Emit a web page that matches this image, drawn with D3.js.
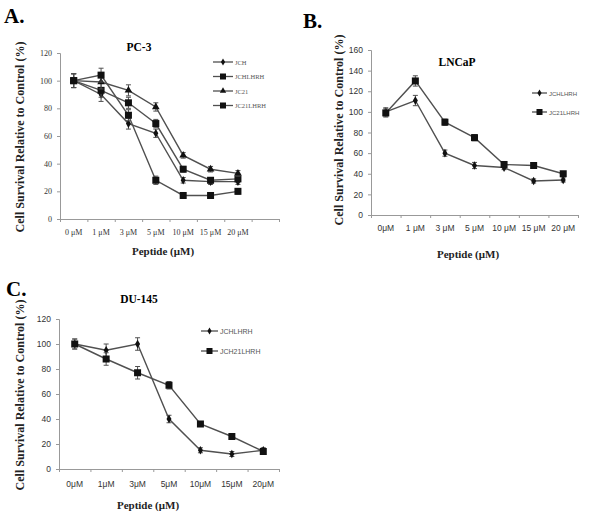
<!DOCTYPE html>
<html>
<head>
<meta charset="utf-8">
<script src="https://cdn.jsdelivr.net/npm/d3@7"></script>
<style>
  body { margin: 0; background: #fff; }
  svg { display: block; }
  .serif { font-family: "Liberation Serif", "DejaVu Serif", serif; }
  .sans { font-family: "Liberation Sans", Arial, sans-serif; }
</style>
</head>
<body>
<div id="chart"></div>
<script>
// doses (x categories)
var doses = ["0μM", "1μM", "3μM", "5μM", "10μM", "15μM", "20μM"];
var dosesA = ["0 μM", "1 μM", "3 μM", "5 μM", "10 μM", "15 μM", "20 μM"];
var dosesB = ["0μM", "1 μM", "3 μM", "5 μM", "10 μM", "15 μM", "20 μM"];

// panel A, PC-3
var pc3JCH = [100, 90, 69, 62, 28, 27, 27];
var pc3JCHLHRH = [100, 93, 84, 69, 36, 28, 29];
var pc3JC21 = [100, 99, 93, 81, 46, 36, 33];
var pc3JC21LHRH = [100, 104, 75, 28, 17, 17, 20];
var pc3Err = [5, 5, 4, 3, 2, 2, 2];

// panel B, LNCaP
var lncapJCHLHRH = [100, 111, 60, 48, 46, 33, 34];
var lncapJC21LHRH = [99, 130, 90, 75, 49, 48, 40];
var lncapErr = [4, 5, 3, 3, 2, 2, 2];

// panel C, DU-145
var du145JCHLHRH = [100, 95, 100, 40, 15, 12, 15];
var du145JCH21LHRH = [100, 88, 77, 67, 36, 26, 14];
var du145Err = [4, 5, 5, 3, 2, 2, 2];

var svg = d3.select("#chart").append("svg")
  .attr("width", 600)
  .attr("height", 523);

var lineColor = "#505050";

function marker(g, type, x, y, size) {
  if (type == "square") {
    g.append("rect")
      .attr("x", x - size / 2).attr("y", y - size / 2)
      .attr("width", size).attr("height", size)
      .attr("fill", "#111");
  } else if (type == "triangle") {
    g.append("path")
      .attr("d", d3.symbol().type(d3.symbolTriangle).size(size * size * 0.7)())
      .attr("transform", "translate(" + x + "," + y + ")")
      .attr("fill", "#111");
  } else {
    g.append("path")
      .attr("d", d3.symbol().type(d3.symbolDiamond).size(size * size * 0.6)())
      .attr("transform", "translate(" + x + "," + y + ")")
      .attr("fill", "#111");
  }
}

function panel(opt) {
  var g = svg.append("g");
  var x = d3.scaleBand().domain(opt.bands).range([opt.x0, opt.x1]);
  var y = d3.scaleLinear().domain([0, opt.ymax]).range([opt.y0, opt.y1]);

  // y axis
  var ya = g.append("g")
    .attr("transform", "translate(" + opt.x0 + ",0)")
    .call(d3.axisLeft(y).ticks(opt.ymax / 20).tickSize(3).tickPadding(5));
  ya.select(".domain").attr("stroke", "#999");
  ya.selectAll(".tick line").attr("stroke", "#999");
  ya.selectAll("text").attr("class", opt.tickFont)
    .attr("font-size", opt.tickSize).attr("fill", "#333");

  // x axis: boundary ticks, then labels at band centres
  var xb = d3.scaleLinear().domain([0, opt.bands.length]).range([opt.x0, opt.x1]);
  var xa = g.append("g")
    .attr("transform", "translate(0," + opt.y0 + ")")
    .call(d3.axisBottom(xb).ticks(opt.bands.length).tickSize(3).tickFormat(""));
  xa.select(".domain").attr("stroke", "#999");
  xa.selectAll(".tick line").attr("stroke", "#999");

  var xl = g.append("g")
    .attr("transform", "translate(0," + opt.y0 + ")")
    .call(d3.axisBottom(x).tickSize(0).tickPadding(opt.labelPad));
  xl.select(".domain").remove();
  xl.selectAll("text").attr("class", opt.tickFont)
    .attr("font-size", opt.tickSize).attr("fill", "#333");

  // series
  opt.series.forEach(function (s) {
    var pts = s.values.map(function (v, i) {
      return [x(opt.bands[i]) + x.bandwidth() / 2, y(v)];
    });
    g.append("path")
      .attr("d", d3.line()(pts))
      .attr("fill", "none")
      .attr("stroke", lineColor)
      .attr("stroke-width", 1.4);
    s.values.forEach(function (v, i) {
      var cx = pts[i][0];
      var e = opt.err[i];
      g.append("line")
        .attr("x1", cx).attr("x2", cx)
        .attr("y1", y(v - e)).attr("y2", y(v + e))
        .attr("stroke", lineColor).attr("stroke-width", 1);
      [v - e, v + e].forEach(function (ev) {
        g.append("line")
          .attr("x1", cx - 2.5).attr("x2", cx + 2.5)
          .attr("y1", y(ev)).attr("y2", y(ev))
          .attr("stroke", lineColor).attr("stroke-width", 1);
      });
      marker(g, s.shape, cx, pts[i][1], s.size);
    });
  });

  // legend
  opt.series.forEach(function (s, i) {
    var ly = opt.legY + i * opt.legStep;
    g.append("line")
      .attr("x1", opt.legX).attr("x2", opt.legX + opt.legLen)
      .attr("y1", ly).attr("y2", ly)
      .attr("stroke", lineColor).attr("stroke-width", 1.3);
    marker(g, s.shape, opt.legX + opt.legLen / 2, ly, s.size - 1);
    g.append("text")
      .attr("class", opt.legFont)
      .attr("x", opt.legX + opt.legLen + 2)
      .attr("y", ly + 2.5)
      .attr("font-size", opt.legSize)
      .attr("fill", "#555")
      .text(s.name);
  });

  // titles
  g.append("text").attr("class", "serif")
    .attr("x", opt.titleX).attr("y", opt.titleY)
    .attr("text-anchor", "middle")
    .attr("font-size", 11.5).attr("font-weight", "bold")
    .text(opt.title);

  g.append("text").attr("class", "serif")
    .attr("transform", "translate(" + opt.yLabX + "," + opt.yLabY + ") rotate(-90)")
    .attr("text-anchor", "middle")
    .attr("font-size", 12).attr("font-weight", "bold")
    .attr("fill", "#222")
    .text("Cell Survival Relative to Control (%)");

  g.append("text").attr("class", "serif")
    .attr("x", opt.xLabX).attr("y", opt.xLabY)
    .attr("text-anchor", "middle")
    .attr("font-size", 11).attr("font-weight", "bold")
    .attr("fill", "#222")
    .text(opt.xLab);

  g.append("text").attr("class", "serif")
    .attr("x", opt.letX).attr("y", opt.letY)
    .attr("font-size", 21).attr("font-weight", "bold")
    .text(opt.letter);
}

panel({
  letter: "A.", letX: 4, letY: 23,
  bands: dosesA.concat([""]),
  x0: 60, x1: 279, y0: 219, y1: 53, ymax: 120,
  tickFont: "serif", tickSize: 8, labelPad: 10,
  err: pc3Err,
  series: [
    { name: "JCH", values: pc3JCH, shape: "diamond", size: 6 },
    { name: "JCHLHRH", values: pc3JCHLHRH, shape: "square", size: 7 },
    { name: "JC21", values: pc3JC21, shape: "triangle", size: 6 },
    { name: "JC21LHRH", values: pc3JC21LHRH, shape: "square", size: 7 }
  ],
  legX: 213, legY: 62, legStep: 14.5, legLen: 20, legFont: "serif", legSize: 6.5,
  title: "PC-3", titleX: 139, titleY: 51,
  yLabX: 24, yLabY: 137, xLab: "Peptide  (μM)", xLabX: 163, xLabY: 255
});

panel({
  letter: "B.", letX: 303, letY: 28,
  bands: dosesB,
  x0: 371, x1: 578, y0: 215, y1: 50, ymax: 160,
  tickFont: "sans", tickSize: 8.5, labelPad: 10,
  err: lncapErr,
  series: [
    { name: "JCHLHRH", values: lncapJCHLHRH, shape: "diamond", size: 6 },
    { name: "JC21LHRH", values: lncapJC21LHRH, shape: "square", size: 7 }
  ],
  legX: 532, legY: 93, legStep: 19, legLen: 15, legFont: "sans", legSize: 6,
  title: "LNCaP", titleX: 457, titleY: 66,
  yLabX: 343, yLabY: 130, xLab: "Peptide (μM)", xLabX: 468, xLabY: 258
});

panel({
  letter: "C.", letX: 6, letY: 296,
  bands: doses,
  x0: 59, x1: 279, y0: 469, y1: 319, ymax: 120,
  tickFont: "sans", tickSize: 8.5, labelPad: 12,
  err: du145Err,
  series: [
    { name: "JCHLHRH", values: du145JCHLHRH, shape: "diamond", size: 6 },
    { name: "JCH21LHRH", values: du145JCH21LHRH, shape: "square", size: 7 }
  ],
  legX: 201, legY: 331, legStep: 20, legLen: 17, legFont: "sans", legSize: 7,
  title: "DU-145", titleX: 139, titleY: 303,
  yLabX: 24, yLabY: 395, xLab: "Peptide (μM)", xLabX: 148, xLabY: 509
});
</script>
</body>
</html>
